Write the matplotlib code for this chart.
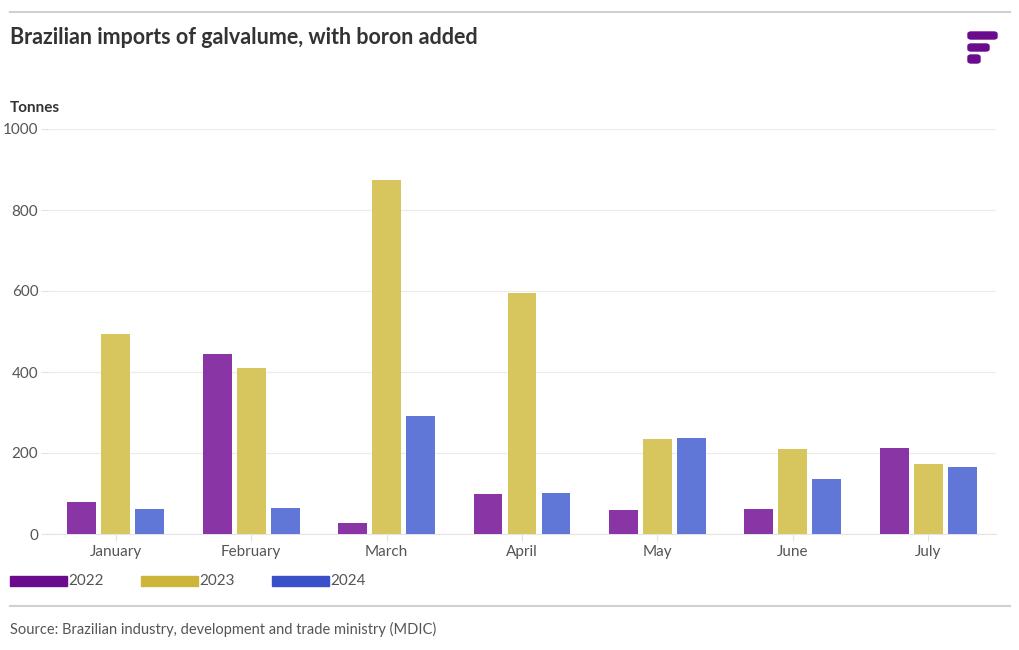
import numpy as np
import matplotlib.pyplot as plt
from matplotlib.patches import FancyBboxPatch, Rectangle
from matplotlib.lines import Line2D

plt.rcParams['font.family'] = ['Lato', 'DejaVu Sans']

# Data
months = ['January', 'February', 'March', 'April', 'May', 'June', 'July']
years = ['2022', '2023', '2024']
v2022 = [79, 444, 27, 99, 59, 62, 212]
v2023 = [494, 410, 874, 595, 235, 210, 173]
v2024 = [62, 64, 291, 101, 237, 136, 165]

bar_colors = ['#8A35A5', '#D7C55E', '#6077D8']
legend_colors = ['#6A0A8C', '#CDB43A', '#3A50C8']

W, H = 1020, 650
fig = plt.figure(figsize=(W / 100, H / 100), dpi=100)
ax = fig.add_axes([48 / W, 1 - 534 / H, (996 - 48) / W, (534 - 129) / H])

x = np.arange(len(months))
bw = 0.214
step = 0.251
for i, vals in enumerate([v2022, v2023, v2024]):
    ax.bar(x + (i - 1) * step, vals, width=bw, color=bar_colors[i], zorder=3)

ax.set_xlim(-0.5, len(months) - 0.5)
ax.set_ylim(0, 1000)
ax.set_yticks([0, 200, 400, 600, 800, 1000])
ax.set_xticks(x)
ax.set_xticklabels(months)
ax.grid(axis='y', color='#ebebeb', linewidth=0.8, zorder=0)
for s in ['top', 'right', 'left']:
    ax.spines[s].set_visible(False)
ax.spines['bottom'].set_color('#e3e3e3')
ax.tick_params(axis='y', length=5, color='#e3e3e3', labelsize=11, labelcolor='#555555', pad=2)
ax.tick_params(axis='x', length=5, color='#e3e3e3', labelsize=11, labelcolor='#555555', pad=3)

# Header
fig.add_artist(Line2D([10 / W, 1010 / W], [1 - 12 / H, 1 - 12 / H], color='#d0d0d0', lw=1.5))
fig.text(10 / W, 1 - 37 / H, 'Brazilian imports of galvalume, with boron added',
         fontsize=15.5, fontweight='bold', color='#333333', va='center')
fig.text(10 / W, 1 - 108 / H, 'Tonnes', fontsize=11, fontweight='bold', color='#333333', va='center')

# Logo
for (x0, x1, y0, y1) in [(968, 997, 32, 39), (968, 989, 44, 51), (968, 980, 55, 63)]:
    fig.add_artist(FancyBboxPatch((x0 / W, 1 - y1 / H), (x1 - x0) / W, (y1 - y0) / H,
                                  boxstyle='round,pad=0,rounding_size=0.003',
                                  transform=fig.transFigure, color='#6A0A8C'))

# Legend
lx = [10, 141, 272]
for i, yr in enumerate(years):
    fig.add_artist(Rectangle((lx[i] / W, 1 - 586 / H), 57 / W, 10 / H,
                             transform=fig.transFigure, color=legend_colors[i]))
    fig.text((lx[i] + 58) / W, 1 - 581 / H, yr, fontsize=11, color='#555555', va='center')

# Footer
fig.add_artist(Line2D([10 / W, 1010 / W], [1 - 606 / H, 1 - 606 / H], color='#d0d0d0', lw=1.5))
fig.text(10 / W, 1 - 629 / H, 'Source: Brazilian industry, development and trade ministry (MDIC)',
         fontsize=10.5, color='#555555', va='center')

fig.savefig('out.png', dpi=100)
